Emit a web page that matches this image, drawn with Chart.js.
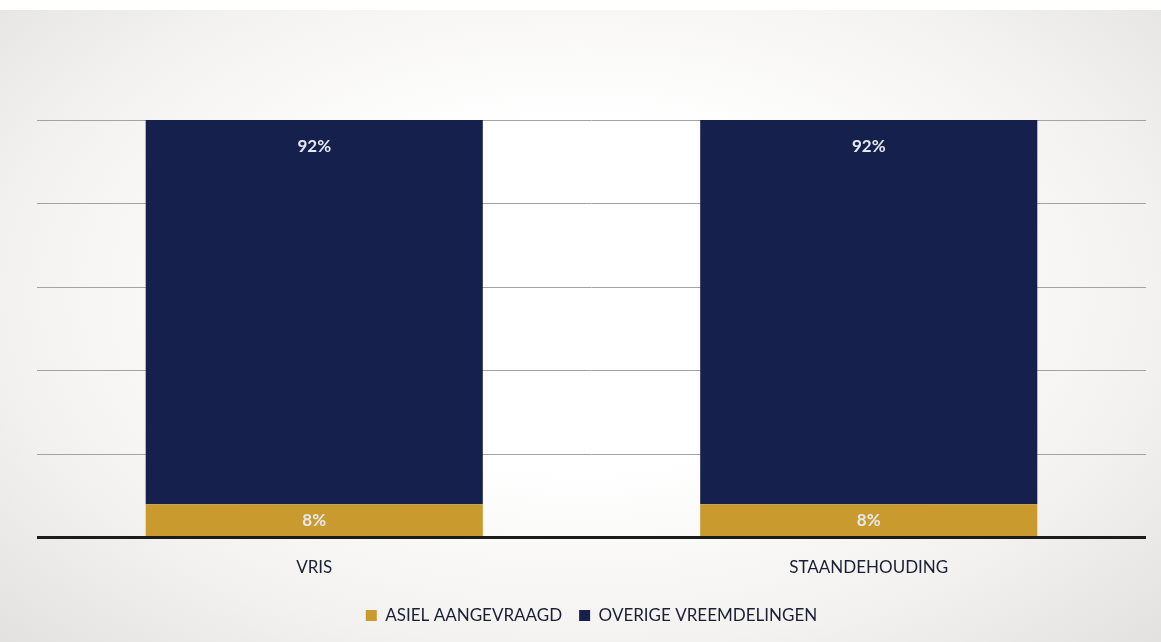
<!DOCTYPE html>
<html>
<head>
<meta charset="utf-8">
<script src="https://cdn.jsdelivr.net/npm/chart.js@4.4.1/dist/chart.umd.min.js"></script>
<style>
  html, body { margin: 0; padding: 0; background: #ffffff; }
  .frame {
    position: absolute; left: 0; top: 10px; width: 1161px; height: 632px;
    background: radial-gradient(ellipse 70% 80% at 50% 45%, #ffffff 35%, #f3f2f0 70%, #e3e1df 100%);
  }
  .chart-wrap { position: absolute; left: 0; top: 0; width: 1161px; height: 642px; }
</style>
</head>
<body>
<div class="frame"></div>
<div class="chart-wrap"><canvas id="chart"></canvas></div>
<script>
// Chart data
const categories = ['VRIS', 'STAANDEHOUDING'];
const seriesNames = ['ASIEL AANGEVRAAGD', 'OVERIGE VREEMDELINGEN'];
const asielValues = [8, 8];
const overigeValues = [92, 92];
const yMax = 100;
const yStep = 20;

const GOLD = '#c99a2e';
const NAVY = '#15204c';

// Draw the percentage labels inside the bars
const barLabels = {
    id: 'barLabels',
    afterDatasetsDraw(chart) {
        const ctx = chart.ctx;
        ctx.save();
        ctx.font = '700 17px Lato, "Open Sans", sans-serif';
        ctx.fillStyle = '#e6e8f0';
        ctx.textAlign = 'center';
        ctx.textBaseline = 'middle';
        chart.data.datasets.forEach((ds, i) => {
            const meta = chart.getDatasetMeta(i);
            meta.data.forEach((bar, j) => {
                const text = ds.data[j] + '%';
                let y;
                if (i === 0) {
                    y = (bar.y + bar.base) / 2;
                } else {
                    y = bar.y + 27;
                }
                ctx.fillText(text, bar.x, y);
            });
        });
        ctx.restore();
    }
};

new Chart(document.getElementById('chart'), {
    type: 'bar',
    data: {
        labels: categories,
        datasets: [
            {
                label: seriesNames[0],
                data: asielValues,
                backgroundColor: GOLD,
                categoryPercentage: 1,
                barPercentage: 0.608
            },
            {
                label: seriesNames[1],
                data: overigeValues,
                backgroundColor: NAVY,
                categoryPercentage: 1,
                barPercentage: 0.608
            }
        ]
    },
    options: {
        responsive: true,
        maintainAspectRatio: false,
        animation: false,
        layout: {
            padding: { left: 37, right: 15, top: 120, bottom: 8 }
        },
        plugins: {
            legend: {
                position: 'bottom',
                labels: {
                    boxWidth: 11,
                    boxHeight: 11,
                    padding: 17,
                    color: '#1c1f33',
                    font: { family: 'Lato, "Open Sans", sans-serif', size: 17 }
                }
            },
            tooltip: { enabled: false }
        },
        scales: {
            x: {
                stacked: true,
                grid: { display: false },
                border: { display: false },
                ticks: {
                    color: '#1c1f33',
                    padding: 12,
                    font: { family: 'Lato, "Open Sans", sans-serif', size: 17 }
                }
            },
            y: {
                stacked: true,
                min: 0,
                max: yMax,
                border: { display: false },
                ticks: { display: false, stepSize: yStep },
                grid: {
                    drawTicks: false,
                    color: ctx => ctx.tick.value === 0 ? '#1b1b1b' : '#a3a3a3',
                    lineWidth: ctx => ctx.tick.value === 0 ? 3 : 1
                }
            }
        }
    },
    plugins: [barLabels]
});
</script>
</body>
</html>
